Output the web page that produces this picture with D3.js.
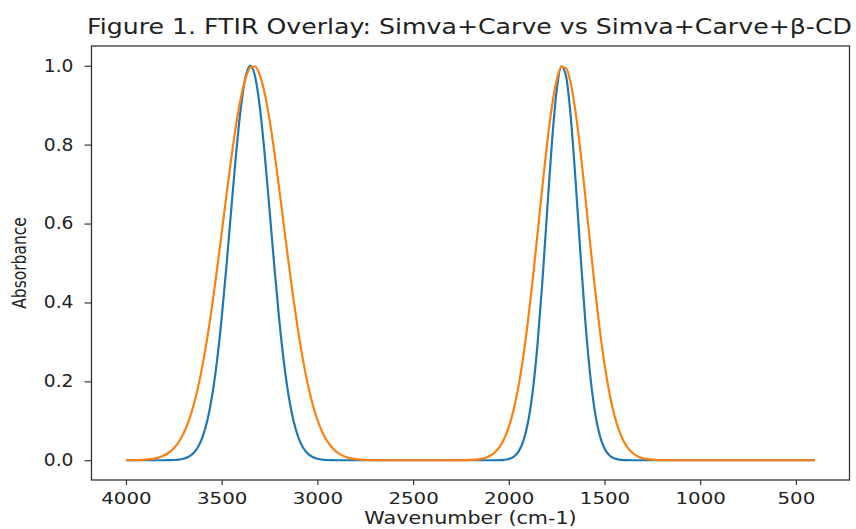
<!DOCTYPE html>
<html>
<head>
<meta charset="utf-8">
<script src="https://cdn.jsdelivr.net/npm/d3@7"></script>
<style>
  body { margin: 0; background: #fff; }
  text { font-family: "DejaVu Sans", sans-serif; fill: #222; }
</style>
</head>
<body>
<div id="chart"></div>
<script>
const width = 856,
    height = 529;

// wavenumber grid (cm-1) with the absorbance for each curve
const wavenumber = [
    4000, 3950, 3925, 3900, 3875, 3850, 3825, 3800, 3775, 3750, 3725, 3700, 3675, 3650, 3625, 3600,
    3575, 3550, 3525, 3500, 3475, 3450, 3425, 3400, 3375, 3350, 3325, 3300, 3275, 3250, 3225, 3200,
    3175, 3150, 3125, 3100, 3075, 3050, 3025, 3000, 2975, 2950, 2925, 2900, 2875, 2850, 2825, 2800,
    2775, 2750, 2700, 2500, 2300, 2250, 2200, 2175, 2150, 2125, 2100, 2075, 2050, 2025, 2000, 1975,
    1950, 1925, 1900, 1875, 1850, 1825, 1800, 1775, 1750, 1725, 1700, 1675, 1650, 1625, 1600, 1575,
    1550, 1525, 1500, 1475, 1450, 1425, 1400, 1375, 1350, 1325, 1300, 1275, 1250, 1225, 1200, 1000,
    800, 600, 400
];

const simvaCarve = [
    0, 0, 0, 0, 0, 0, 0, 0, 0.0003, 0.0007, 0.0017, 0.0039, 0.0083, 0.0169, 0.0324, 0.0588,
    0.1007, 0.1630, 0.2494, 0.3604, 0.4923, 0.6354, 0.7748, 0.8928, 0.9721, 1.0000, 0.9721, 0.8928, 0.7748, 0.6354, 0.4923, 0.3604,
    0.2494, 0.1630, 0.1007, 0.0588, 0.0324, 0.0169, 0.0083, 0.0039, 0.0017, 0.0007, 0.0003, 0, 0, 0, 0, 0,
    0, 0, 0, 0, 0, 0, 0, 0, 0, 0, 0, 0.0001, 0.0004, 0.0012, 0.0034, 0.0089,
    0.0215, 0.0474, 0.0952, 0.1749, 0.2933, 0.4493, 0.6285, 0.8029, 0.9368, 0.9982, 0.9714, 0.8633, 0.7007, 0.5194, 0.3517, 0.2174,
    0.1228, 0.0633, 0.0298, 0.0128, 0.0050, 0.0018, 0.0006, 0.0002, 0, 0, 0, 0, 0, 0, 0, 0,
    0, 0, 0
];

const simvaCarveCD = [
    0, 0, 0.0009, 0.0015, 0.0027, 0.0046, 0.0077, 0.0125, 0.0197, 0.0304, 0.0457, 0.0671, 0.0958, 0.1336, 0.1816, 0.2406,
    0.3109, 0.3915, 0.4808, 0.5757, 0.6719, 0.7647, 0.8485, 0.9179, 0.9680, 0.9955, 0.9980, 0.9755, 0.9296, 0.8637, 0.7824, 0.6910,
    0.5950, 0.4995, 0.4088, 0.3262, 0.2538, 0.1925, 0.1424, 0.1027, 0.0722, 0.0494, 0.0331, 0.0215, 0.0137, 0.0085, 0.0051, 0.0030,
    0.0017, 0.0010, 0, 0, 0, 0, 0.0008, 0.0016, 0.0031, 0.0059, 0.0109, 0.0192, 0.0326, 0.0533, 0.0838, 0.1271,
    0.1854, 0.2604, 0.3519, 0.4578, 0.5734, 0.6912, 0.8021, 0.8959, 0.9633, 0.9970, 0.9932, 0.9524, 0.8790, 0.7810, 0.6679, 0.5499,
    0.4357, 0.3323, 0.2440, 0.1724, 0.1173, 0.0768, 0.0484, 0.0294, 0.0172, 0.0096, 0.0052, 0.0027, 0.0014, 0.0007, 0, 0,
    0, 0, 0
];

const series = [
    { name: "Simva+Carve", values: simvaCarve, color: "#1f77b4" },
    { name: "Simva+Carve+β-CD", values: simvaCarveCD, color: "#ff7f0e" }
];

const xTicks = [4000, 3500, 3000, 2500, 2000, 1500, 1000, 500],
    yTicks = [0.0, 0.2, 0.4, 0.6, 0.8, 1.0];

const title = "Figure 1. FTIR Overlay: Simva+Carve vs Simva+Carve+β-CD",
    xTitle = "Wavenumber (cm-1)",
    yTitle = "Absorbance";

const plot = { left: 91.5, right: 849.5, top: 46, bottom: 480 };

// matplotlib-like 5% margins, wavenumber axis reversed
var xMin = d3.min(wavenumber), xMax = d3.max(wavenumber),
    xPad = (xMax - xMin) * 0.05;
var x = d3.scaleLinear()
    .domain([xMax + xPad, xMin - xPad])
    .range([plot.left, plot.right]);

var y = d3.scaleLinear()
    .domain([-0.05, 1.05])
    .range([plot.bottom, plot.top]);

var svg = d3.select("#chart").append("svg")
    .attr("width", width)
    .attr("height", height);

svg.append("rect")
    .attr("width", width)
    .attr("height", height)
    .attr("fill", "#fff");

var line = d3.line()
    .x((d, i) => x(wavenumber[i]))
    .y(d => y(d))
    .curve(d3.curveMonotoneX);

svg.append("defs").append("clipPath")
    .attr("id", "clip")
    .append("rect")
    .attr("x", plot.left)
    .attr("y", plot.top)
    .attr("width", plot.right - plot.left)
    .attr("height", plot.bottom - plot.top);

svg.append("g")
    .attr("clip-path", "url(#clip)")
    .selectAll("path")
    .data(series)
    .join("path")
    .attr("d", d => line(d.values))
    .attr("fill", "none")
    .attr("stroke", d => d.color)
    .attr("stroke-width", 2.2)
    .attr("stroke-linejoin", "round");

// axes
var xAxis = svg.append("g")
    .attr("transform", `translate(0,${plot.bottom})`)
    .call(d3.axisBottom(x).tickValues(xTicks).tickSize(5).tickPadding(7).tickFormat(d3.format("d")));

var yAxis = svg.append("g")
    .attr("transform", `translate(${plot.left},0)`)
    .call(d3.axisLeft(y).tickValues(yTicks).tickSize(7).tickPadding(11).tickFormat(d3.format(".1f")));

[xAxis, yAxis].forEach(g => {
    g.select(".domain").remove();
    g.selectAll(".tick line").attr("stroke", "#333").attr("stroke-width", 1.2);
    g.selectAll(".tick text")
        .attr("font-family", "DejaVu Sans")
        .attr("fill", "#222");
});

// stretch the tick labels a little sideways like the picture
xAxis.selectAll(".tick text")
    .attr("font-size", 16.5)
    .attr("transform", "scale(1.2,1)")
    .attr("dy", "0.71em");
yAxis.selectAll(".tick text")
    .attr("font-size", 17)
    .attr("x", null)
    .attr("transform", "translate(-18,0) scale(1.1,1)");

svg.append("rect")
    .attr("x", plot.left)
    .attr("y", plot.top)
    .attr("width", plot.right - plot.left)
    .attr("height", plot.bottom - plot.top)
    .attr("fill", "none")
    .attr("stroke", "#333")
    .attr("stroke-width", 1.3);

svg.append("text")
    .attr("transform", `translate(${(plot.left + plot.right) / 2 - 1},34) scale(1.2,1)`)
    .attr("text-anchor", "middle")
    .attr("font-size", 21)
    .text(title);

svg.append("text")
    .attr("transform", `translate(${(plot.left + plot.right) / 2},524) scale(1.15,1)`)
    .attr("text-anchor", "middle")
    .attr("font-size", 18)
    .text(xTitle);

svg.append("text")
    .attr("transform", "translate(26,263) scale(1.2,1) rotate(-90)")
    .attr("text-anchor", "middle")
    .attr("font-size", 15.5)
    .text(yTitle);
</script>
</body>
</html>
